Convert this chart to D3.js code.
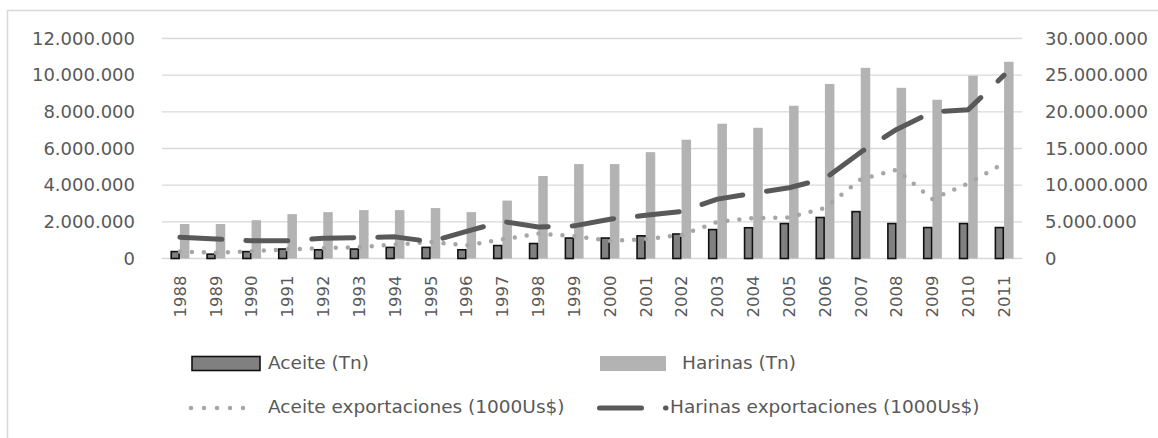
<!DOCTYPE html>
<html>
<head>
<meta charset="utf-8">
<script src="https://cdn.jsdelivr.net/npm/d3@7"></script>
<style>
  html, body { margin: 0; padding: 0; background: #fff; }
  svg { display: block; font-family: "DejaVu Sans", sans-serif; }
</style>
</head>
<body>
<svg id="chart" width="1158" height="438"></svg>
<script>
// ---- data ----
const years = ["1988","1989","1990","1991","1992","1993","1994","1995","1996","1997","1998","1999",
               "2000","2001","2002","2003","2004","2005","2006","2007","2008","2009","2010","2011"];
const aceiteTn = [420000, 280000, 420000, 560000, 520000, 560000, 650000, 650000, 520000, 750000, 860000, 1160000,
                  1160000, 1280000, 1380000, 1620000, 1720000, 1950000, 2280000, 2600000, 1950000, 1730000, 1950000, 1730000];
const harinasTn = [1880000, 1880000, 2090000, 2420000, 2530000, 2640000, 2640000, 2750000, 2530000, 3160000, 4500000, 5150000,
                   5150000, 5800000, 6480000, 7350000, 7130000, 8330000, 9520000, 10400000, 9310000, 8660000, 9970000, 10730000];
const aceiteExp = [950000, 800000, 1000000, 1250000, 1400000, 1550000, 1900000, 2250000, 1800000, 2600000, 3400000, 3050000,
                   2400000, 2650000, 3200000, 5000000, 5500000, 5600000, 6900000, 10800000, 12100000, 8100000, 10250000, 13000000];
const harinasExp = [2900000, 2650000, 2430000, 2430000, 2750000, 2850000, 2950000, 2300000, 3700000, 5050000, 4300000, 4450000,
                    5350000, 5900000, 6400000, 8100000, 8900000, 9650000, 10900000, 14500000, 17600000, 20000000, 20300000, 25000000];
const leftTicks = [0, 2000000, 4000000, 6000000, 8000000, 10000000, 12000000];
const rightTicks = [0, 5000000, 10000000, 15000000, 20000000, 25000000, 30000000];
const seriesNames = ["Aceite (Tn)", "Harinas (Tn)", "Aceite exportaciones (1000Us$)", "Harinas exportaciones (1000Us$)"];

// ---- setup ----
const svg = d3.select("#chart");
const locale = d3.formatLocale({decimal: ",", thousands: ".", grouping: [3], currency: ["$", ""]});
const fmt = locale.format(",d");

const plotL = 162, plotR = 1022, plotT = 38.5, plotB = 258.5;
const x = d3.scaleBand().domain(years).range([plotL, plotR]).paddingInner(0.47).paddingOuter(0.235);
const xSub = d3.scaleBand().domain(["aceite", "harinas"]).range([0, x.bandwidth()]);
const yL = d3.scaleLinear().domain([0, 12000000]).range([plotB, plotT]);
const yR = d3.scaleLinear().domain([0, 30000000]).range([plotB, plotT]);

// frame
svg.append("rect").attr("x", 7.5).attr("y", 10.5).attr("width", 1300).attr("height", 600)
  .attr("fill", "none").attr("stroke", "#d9d9d9").attr("stroke-width", 1.5);

// gridlines
svg.append("g").selectAll("line").data(leftTicks).join("line")
  .attr("x1", plotL).attr("x2", plotR)
  .attr("y1", d => yL(d)).attr("y2", d => yL(d))
  .attr("stroke", "#d9d9d9").attr("stroke-width", 1.3);

// axes
const axL = svg.append("g").attr("transform", `translate(${plotL},0)`)
  .call(d3.axisLeft(yL).tickValues(leftTicks).tickFormat(fmt).tickSize(0).tickPadding(27));
const axR = svg.append("g").attr("transform", `translate(${plotR},0)`)
  .call(d3.axisRight(yR).tickValues(rightTicks).tickFormat(fmt).tickSize(0).tickPadding(23));
const axB = svg.append("g").attr("transform", `translate(0,${plotB})`)
  .call(d3.axisBottom(x).tickSize(0).tickPadding(0));
[axL, axR, axB].forEach(g => g.select(".domain").remove());
axL.selectAll("text").attr("font-size", 18).attr("fill", "#595959").attr("font-family", "DejaVu Sans");
axR.selectAll("text").attr("font-size", 18).attr("fill", "#595959").attr("font-family", "DejaVu Sans");
axB.selectAll("text")
  .attr("font-size", 16.5).attr("fill", "#595959").attr("font-family", "DejaVu Sans")
  .attr("transform", "rotate(-90)")
  .attr("x", -17).attr("y", 0).attr("dy", "0.35em")
  .attr("text-anchor", "end");

// bars
const bars = svg.append("g");
bars.selectAll("rect.h").data(years).join("rect").attr("class", "h")
  .attr("x", d => x(d) + xSub("harinas"))
  .attr("width", xSub.bandwidth())
  .attr("y", (d, i) => yL(harinasTn[i]))
  .attr("height", (d, i) => yL(0) - yL(harinasTn[i]))
  .attr("fill", "#b3b3b3");
bars.selectAll("rect.a").data(years).join("rect").attr("class", "a")
  .attr("x", d => x(d) + xSub("aceite") + 0.8)
  .attr("width", xSub.bandwidth() - 1.6)
  .attr("y", (d, i) => yL(aceiteTn[i]) + 0.8)
  .attr("height", (d, i) => Math.max(0, yL(0) - yL(aceiteTn[i]) - 0.8))
  .attr("fill", "#808080").attr("stroke", "#111").attr("stroke-width", 1.6);

// lines
const cx = d => x(d) + x.bandwidth() / 2;
const lineA = d3.line().x((d, i) => cx(years[i])).y(d => yR(d));
svg.append("path").datum(aceiteExp).attr("d", lineA)
  .attr("fill", "none").attr("stroke", "#a6a6a6").attr("stroke-width", 4.5)
  .attr("stroke-linecap", "round").attr("stroke-dasharray", "0,12");
svg.append("path").datum(harinasExp).attr("d", lineA)
  .attr("fill", "none").attr("stroke", "#595959").attr("stroke-width", 5)
  .attr("stroke-linecap", "round").attr("stroke-linejoin", "round").attr("stroke-dasharray", "42,24");

// legend
const lg = svg.append("g").attr("font-size", 18.5).attr("fill", "#595959");
lg.append("rect").attr("x", 192).attr("y", 356.5).attr("width", 68).attr("height", 14)
  .attr("fill", "#808080").attr("stroke", "#111").attr("stroke-width", 1.6);
lg.append("text").attr("x", 268).attr("y", 369).text(seriesNames[0]);
lg.append("rect").attr("x", 600).attr("y", 356).attr("width", 66).attr("height", 15).attr("fill", "#b3b3b3");
lg.append("text").attr("x", 682).attr("y", 369).text(seriesNames[1]);
lg.append("line").attr("x1", 191).attr("x2", 256).attr("y1", 408).attr("y2", 408)
  .attr("stroke", "#a6a6a6").attr("stroke-width", 4.5).attr("stroke-linecap", "round").attr("stroke-dasharray", "0,13");
lg.append("text").attr("x", 268).attr("y", 413).text(seriesNames[2]);
lg.append("line").attr("x1", 599.5).attr("x2", 666).attr("y1", 408).attr("y2", 408)
  .attr("stroke", "#595959").attr("stroke-width", 5).attr("stroke-linecap", "round").attr("stroke-dasharray", "42,24");
lg.append("text").attr("x", 670).attr("y", 413).text(seriesNames[3]);
</script>
</body>
</html>
